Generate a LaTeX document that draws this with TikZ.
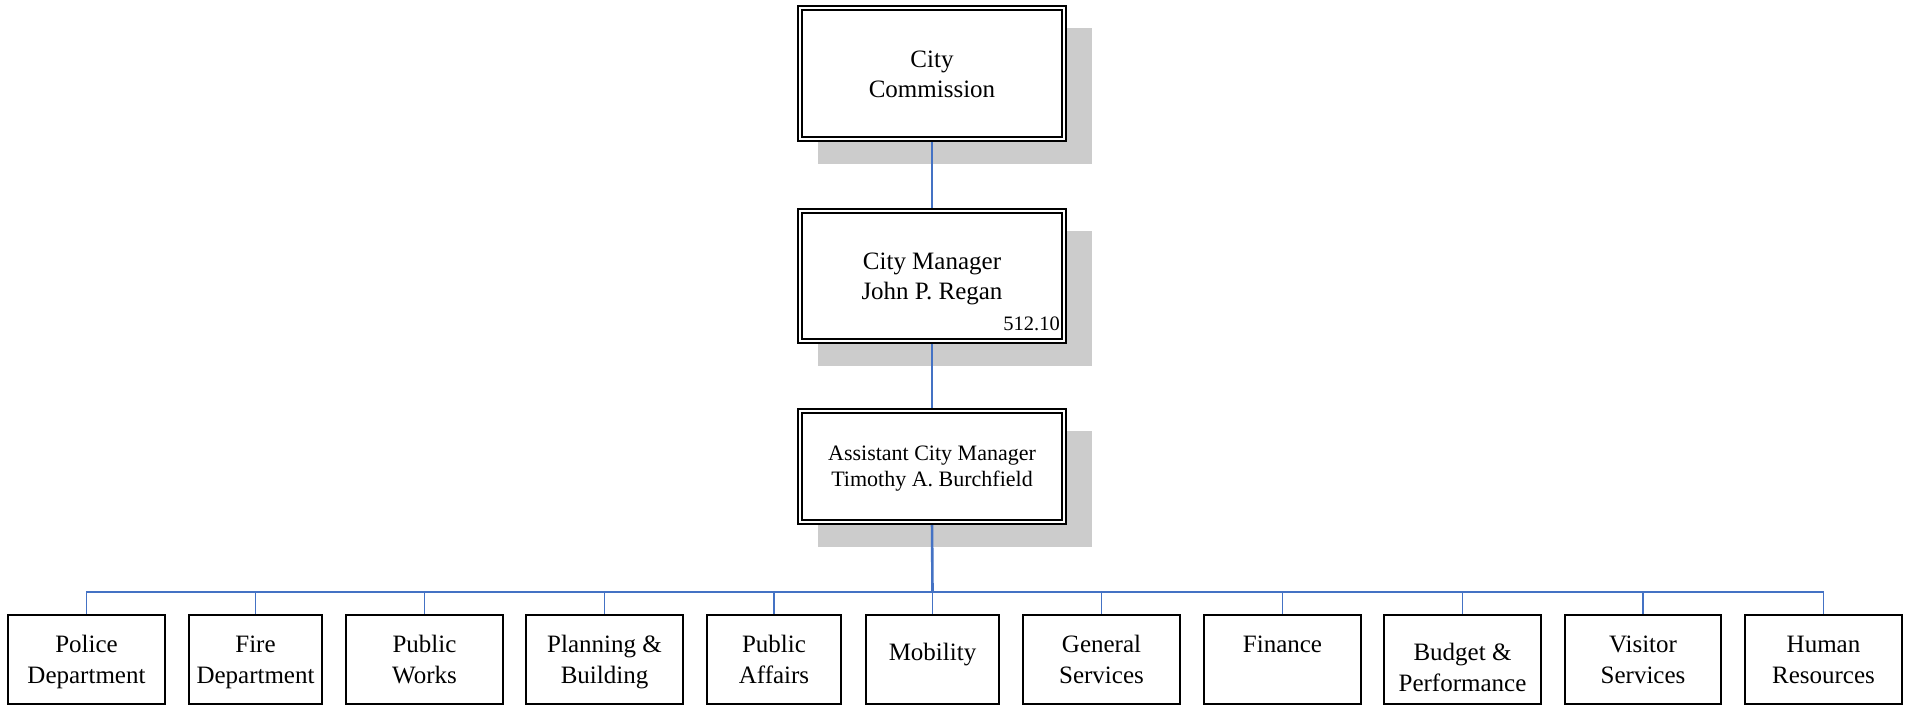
\documentclass[tikz,border=0pt]{standalone}
\usepackage{fontspec}
\setmainfont{Liberation Serif}
\usetikzlibrary{backgrounds}
\definecolor{connblue}{HTML}{4472C4}
\definecolor{shadegray}{HTML}{CCCCCC}
\begin{document}
\begin{tikzpicture}[x=1pt,y=-1pt,
  topbox/.style={draw=black, double=white, line width=1.8pt, double distance=2pt,
    fill=white, inner sep=0pt, outer sep=0pt, minimum width=264.4pt},
  deptbox/.style={draw=black, line width=2pt, fill=white, inner sep=0pt, outer sep=0pt,
    minimum height=89pt},
  dtext/.style={font=\fontsize{25}{31}\selectfont, align=center, anchor=north, inner sep=0pt},
  ttext/.style={font=\fontsize{25}{30}\selectfont, align=center, anchor=north, inner sep=0pt},
  atext/.style={font=\fontsize{22}{26}\selectfont, align=center, anchor=north, inner sep=0pt},
  link/.style={draw=connblue, line width=1.4pt},
  shadow/.style={fill=shadegray},
]
\useasboundingbox (0,0) rectangle (1910,706);

% top hierarchy
\node[topbox, minimum height=131.4pt] (cc) at (932,73.5) {};
\node[ttext] (cctext) at (932,46) {City\strut\\Commission\strut};

\node[topbox, minimum height=130.4pt] (cm) at (932,276) {};
\node[ttext] (cmtext) at (932,248) {City Manager\strut\\John P. Regan\strut};
\node[font=\fontsize{20.5}{24}\selectfont, anchor=base east, inner sep=0pt] (cmcode) at (1060,330) {512.10};

\node[topbox, minimum height=111.4pt] (acm) at (932,466.5) {};
\node[atext] (acmtext) at (932,441.8) {Assistant City Manager\strut\\Timothy A. Burchfield\strut};

% departments
\node[deptbox, minimum width=157pt] (police) at (86.5,659.5) {};
\node[dtext] at (86.5,630.3) {Police\strut\\Department\strut};
\node[deptbox, minimum width=133pt] (fire) at (255.5,659.5) {};
\node[dtext] at (255.5,630.3) {Fire\strut\\Department\strut};
\node[deptbox, minimum width=157pt] (pw) at (424.5,659.5) {};
\node[dtext] at (424.5,630.3) {Public\strut\\Works\strut};
\node[deptbox, minimum width=157pt] (plan) at (604.5,659.5) {};
\node[dtext] at (604.5,630.3) {Planning \&\strut\\Building\strut};
\node[deptbox, minimum width=134pt] (pa) at (774,659.5) {};
\node[dtext] at (774,630.3) {Public\strut\\Affairs\strut};
\node[deptbox, minimum width=133pt] (mob) at (932.5,659.5) {};
\node[dtext] at (932.5,638.3) {Mobility\strut};
\node[deptbox, minimum width=157pt] (gen) at (1101.5,659.5) {};
\node[dtext] at (1101.5,630.3) {General\strut\\Services\strut};
\node[deptbox, minimum width=157pt] (fin) at (1282.5,659.5) {};
\node[dtext] at (1282.5,630.3) {Finance\strut};
\node[deptbox, minimum width=157pt] (bud) at (1462.5,659.5) {};
\node[dtext] at (1462.5,638.3) {Budget \&\strut\\Performance\strut};
\node[deptbox, minimum width=156pt] (vis) at (1643,659.5) {};
\node[dtext] at (1643,630.3) {Visitor\strut\\Services\strut};
\node[deptbox, minimum width=157pt] (hr) at (1823.5,659.5) {};
\node[dtext] at (1823.5,630.3) {Human\strut\\Resources\strut};

\coordinate (bus) at (932.5,592);

\begin{scope}[on background layer]
  \fill[white] (0,0) rectangle (1910,706);
  \fill[shadow] ([shift={(18,20)}]cc.north west) rectangle ([shift={(28,25)}]cc.south east);
  \fill[shadow] ([shift={(18,20)}]cm.north west) rectangle ([shift={(28,25)}]cm.south east);
  \fill[shadow] ([shift={(18,20)}]acm.north west) rectangle ([shift={(28,25)}]acm.south east);
  \draw[link] (cc.south) -- (cm.north);
  \draw[link] (cm.south) -- (acm.north);
  \draw[link, line width=2.6pt] (acm.south) -- (bus);
  \draw[link, line width=2.2pt] (bus -| fire.north) -- (bus -| bud.north);
  \foreach \d in {police,fire,pw,plan,pa,mob,gen,fin,bud,vis,hr}
    \draw[link] (bus) -| (\d.north);
\end{scope}
\end{tikzpicture}
\end{document}
